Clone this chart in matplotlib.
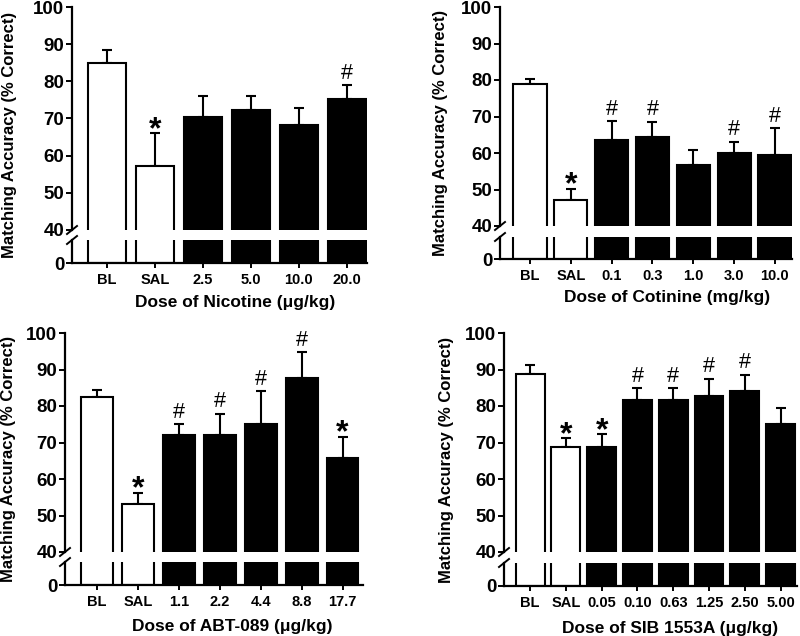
import matplotlib
matplotlib.use("Agg")
import matplotlib.pyplot as plt
from matplotlib.lines import Line2D

plt.rcParams['font.family'] = ['Liberation Sans', 'DejaVu Sans']
plt.rcParams['font.weight'] = 'bold'

# ---------------- data ----------------
nic_labels = ['BL', 'SAL', '2.5', '5.0', '10.0', '20.0']
nic_means = [85.0, 57.2, 70.3, 72.2, 68.2, 75.2]
nic_sem = [3.5, 8.9, 5.8, 3.9, 4.5, 3.8]
nic_marks = ['', '*', '', '', '', '#']
nic_xlabel = 'Dose of Nicotine (\u03bcg/kg)'

cot_labels = ['BL', 'SAL', '0.1', '0.3', '1.0', '3.0', '10.0']
cot_means = [78.8, 47.1, 63.6, 64.5, 56.6, 60.0, 59.5]
cot_sem = [1.6, 3.1, 5.2, 4.1, 4.3, 3.1, 7.3]
cot_marks = ['', '*', '#', '#', '', '#', '#']
cot_xlabel = 'Dose of Cotinine (mg/kg)'

abt_labels = ['BL', 'SAL', '1.1', '2.2', '4.4', '8.8', '17.7']
abt_means = [82.4, 53.1, 72.0, 72.0, 75.1, 87.6, 65.8]
abt_sem = [2.1, 3.2, 3.0, 5.9, 8.9, 7.2, 5.8]
abt_marks = ['', '*', '#', '#', '#', '#', '*']
abt_xlabel = 'Dose of ABT-089 (\u03bcg/kg)'

sib_labels = ['BL', 'SAL', '0.05', '0.10', '0.63', '1.25', '2.50', '5.00']
sib_means = [88.8, 68.7, 68.7, 81.6, 81.6, 82.7, 84.1, 75.0]
sib_sem = [2.3, 2.5, 3.6, 3.4, 3.4, 4.8, 4.5, 4.5]
sib_marks = ['', '*', '*', '#', '#', '#', '#', '']
sib_xlabel = 'Dose of SIB 1553A (\u03bcg/kg)'

n_white = 2  # BL and SAL are open bars
ylabel = 'Matching Accuracy (% Correct)'

W, H = 800, 636
fig = plt.figure(figsize=(W / 100, H / 100), dpi=100)


def frac_rect(l, r, top, bottom):
    return [l / W, 1 - bottom / H, (r - l) / W, (bottom - top) / H]


def panel(labels, means, sems, marks, xlab, left, right, y100, y40, ybrk, y0,
          xl, xr, width, xlab_pos, ylab_x):
    ppu = (y40 - y100) / 60.0
    low_top = (y0 - ybrk) / ppu
    ax_t = fig.add_axes(frac_rect(left, right, y100, y40))
    ax_b = fig.add_axes(frac_rect(left, right, ybrk, y0))
    x = list(range(len(labels)))
    colors = ['white' if i < n_white else 'black' for i in x]
    for ax in (ax_t, ax_b):
        ax.bar(x, means, width=width, color=colors, edgecolor='black',
               linewidth=1.5, zorder=2)
        ax.set_xlim(xl, xr)
        for s in ('top', 'right'):
            ax.spines[s].set_visible(False)
        ax.spines['left'].set_linewidth(1.6)
        ax.spines['bottom'].set_linewidth(1.6)
        ax.tick_params(axis='y', length=4, width=1.4, pad=1.5, labelsize=13.5)
    ax_t.errorbar(x, means, yerr=[[0] * len(x), sems], fmt='none',
                  ecolor='black', elinewidth=1.5, capsize=3.5, capthick=1.5,
                  zorder=1)
    ax_t.set_ylim(40, 100)
    ax_t.set_yticks([40, 50, 60, 70, 80, 90, 100])
    ax_t.spines['bottom'].set_visible(False)
    ax_t.set_xticks([])
    ax_b.set_ylim(0, low_top)
    ax_b.set_yticks([0])
    ax_b.set_xticks(x)
    ax_b.set_xticklabels(labels)
    ax_b.tick_params(axis='x', length=3.5, width=1.4, pad=4, labelsize=10.5)
    for xi, m, s, mk in zip(x, means, sems, marks):
        if mk == '*':
            ax_t.annotate('*', xy=(xi, m + s), xytext=(0, -3.5),
                          textcoords='offset points', ha='center',
                          va='baseline', fontsize=23, fontweight='bold')
        elif mk == '#':
            ax_t.annotate('#', xy=(xi, m + s), xytext=(0, 4.5),
                          textcoords='offset points', ha='center',
                          va='baseline', fontsize=15.5, fontweight='normal')
    # break marks
    for yb in (y40, ybrk):
        fig.add_artist(Line2D([(left - 5) / W, (left + 5) / W],
                              [1 - (yb + 4) / H, 1 - (yb - 4) / H],
                              color='black', linewidth=1.4))
    fig.text(xlab_pos[0] / W, 1 - xlab_pos[1] / H, xlab, ha='center',
             va='center', fontsize=12.5, fontweight='bold')
    fig.text(ylab_x / W, 1 - (y100 + y0) / 2 / H, ylabel, rotation=90,
             ha='center', va='center', fontsize=12, fontweight='bold')


panel(nic_labels, nic_means, nic_sem, nic_marks, nic_xlabel,
      72, 367, 7, 230, 240, 263, -0.73, 5.42, 0.79, (235, 302), 10)
panel(cot_labels, cot_means, cot_sem, cot_marks, cot_xlabel,
      500, 792, 7, 226, 237, 259, -0.735, 6.42, 0.81, (667, 297), 441)
panel(abt_labels, abt_means, abt_sem, abt_marks, abt_xlabel,
      65, 363, 333, 552, 562, 585, -0.78, 6.5, 0.78, (232, 627), 9)
panel(sib_labels, sib_means, sib_sem, sib_marks, sib_xlabel,
      504, 797, 333, 552, 563, 586, -0.73, 7.46, 0.81, (670, 628), 446)

fig.savefig('out.png', dpi=100)
